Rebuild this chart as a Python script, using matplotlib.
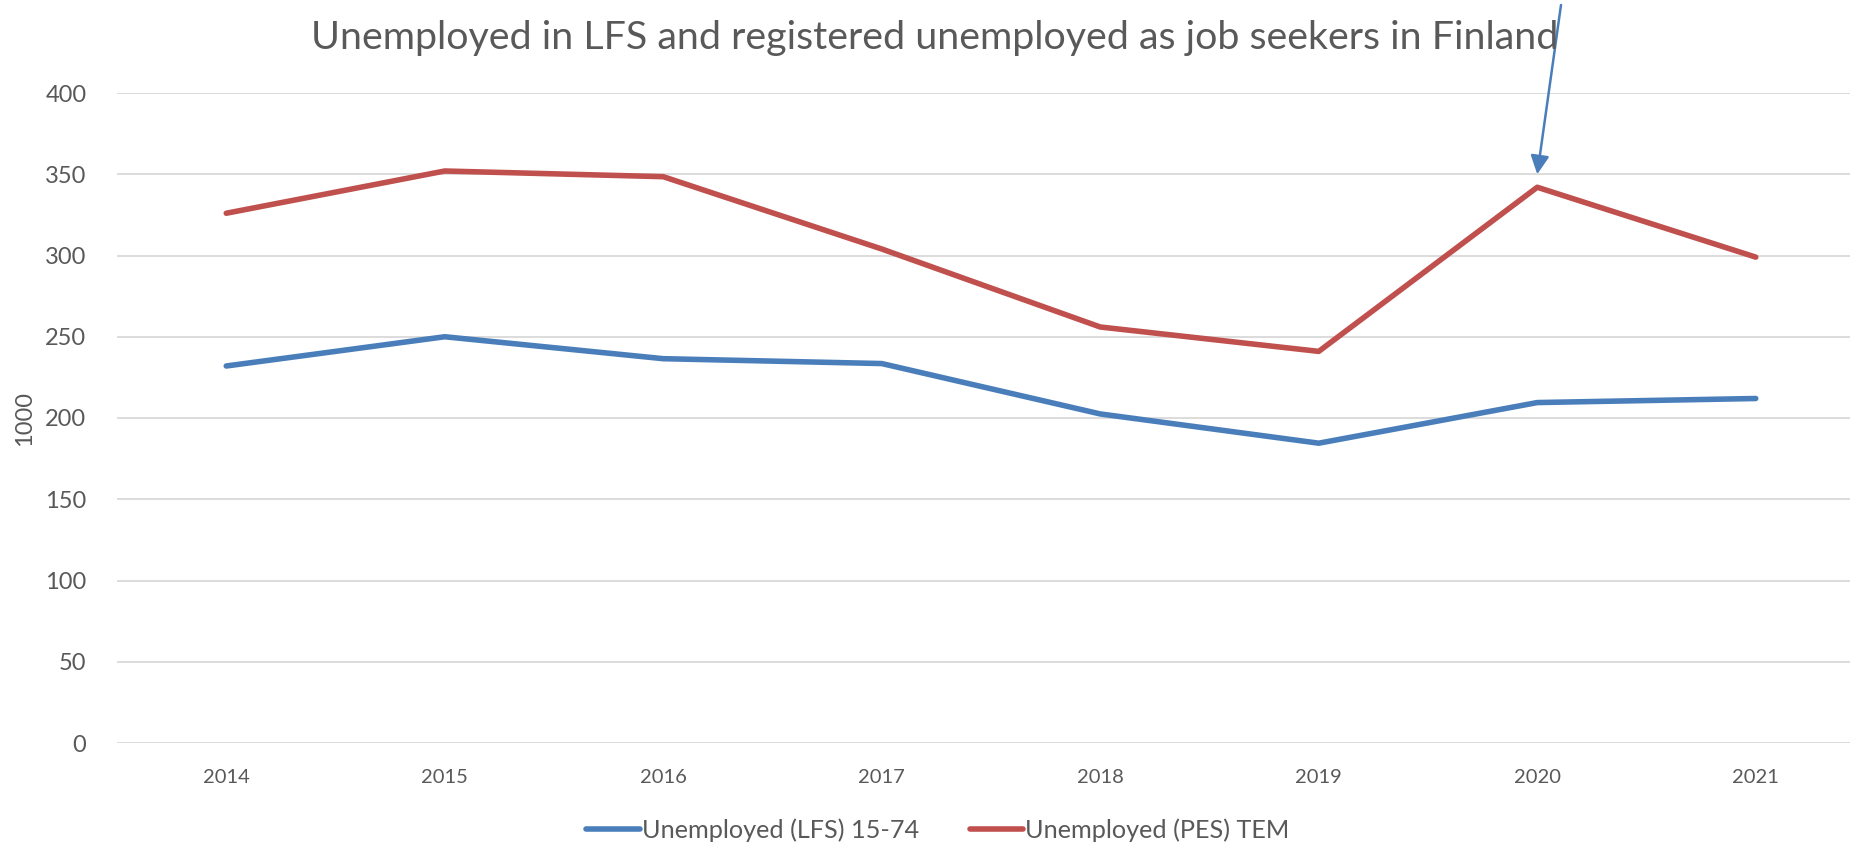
import numpy as np
import matplotlib.pyplot as plt

plt.rcParams['font.family'] = ['Lato', 'DejaVu Sans']

years = ['2014', '2015', '2016', '2017', '2018', '2019', '2020', '2021']
lfs_unemployed = [232, 250, 236.5, 233.5, 202.5, 184.5, 209.5, 212]
pes_unemployed = [326, 352, 348.5, 304, 256, 241, 342, 299]

text_col = '#595959'
blue = '#4a7ebb'
red = '#c0504d'

fig = plt.figure(figsize=(18.5, 8.43), dpi=100)
ax = fig.add_axes([117 / 1850, 100 / 843, 1748 / 1850, 650 / 843])

x = np.arange(len(years))
ax.plot(x, lfs_unemployed, color=blue, lw=4, solid_capstyle='round',
        label='Unemployed (LFS) 15-74')
ax.plot(x, pes_unemployed, color=red, lw=4, solid_capstyle='round',
        label='Unemployed (PES) TEM')

ax.set_xlim(-0.5, len(years) - 0.5)
ax.set_ylim(0, 400)
ax.set_yticks(range(0, 401, 50))
ax.set_xticks(x)
ax.set_xticklabels(years)
ax.grid(axis='y', color='#d9d9d9', lw=1.3)
ax.set_axisbelow(True)
for s in ax.spines.values():
    s.set_visible(False)
ax.tick_params(axis='both', length=0, colors=text_col)
ax.tick_params(axis='y', labelsize=17, pad=22)
ax.tick_params(axis='x', labelsize=14.5, pad=19)
ax.set_ylabel('1000', fontsize=17, color=text_col)
ax.yaxis.set_label_coords(-0.047, 0.5)

fig.text(0.505, 0.955, 'Unemployed in LFS and registered unemployed as job seekers in Finland',
         ha='center', va='center', fontsize=28.4, color=text_col)

# arrow pointing at the 2020 peak
ax.annotate('', xy=(6, 350), xycoords='data',
            xytext=(1561 / 1850, 1 - 5 / 843), textcoords='figure fraction',
            arrowprops=dict(arrowstyle='-|>', color=blue, lw=1.8,
                            mutation_scale=28, shrinkA=0, shrinkB=0))

fig.legend(loc='center', bbox_to_anchor=(938 / 1850, 1 - 830 / 843), ncol=2,
           frameon=False, fontsize=18.2, handlelength=2.1, handletextpad=0.1,
           columnspacing=2.0, labelcolor=text_col)

fig.savefig('out.png', dpi=100)
